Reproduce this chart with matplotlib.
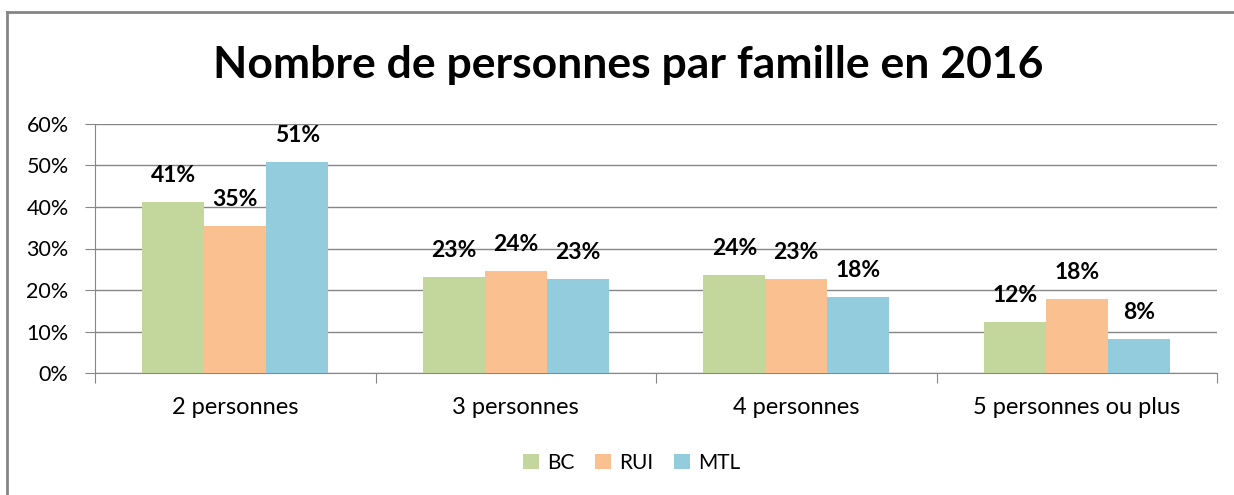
import matplotlib.pyplot as plt
import numpy as np
from matplotlib.lines import Line2D

categories = ['2 personnes', '3 personnes', '4 personnes', '5 personnes ou plus']
series = ['BC', 'RUI', 'MTL']
bc = [41.2, 23.1, 23.6, 12.3]
rui = [35.4, 24.5, 22.6, 17.8]
mtl = [50.9, 22.6, 18.4, 8.3]
labels_bc = ['41%', '23%', '24%', '12%']
labels_rui = ['35%', '24%', '23%', '18%']
labels_mtl = ['51%', '23%', '18%', '8%']
colors = ['#C3D69B', '#FAC090', '#93CDDD']

plt.rcParams['font.family'] = ['Lato', 'DejaVu Sans']
grey = '#868686'

fig = plt.figure(figsize=(12.34, 4.95), dpi=100)
ax = fig.add_axes([95/1234, 1-373/495, (1217-95)/1234, (373-124)/495])

x = np.arange(len(categories))
w = 0.221
allvals = [bc, rui, mtl]
alllabs = [labels_bc, labels_rui, labels_mtl]
for i, (vals, labs) in enumerate(zip(allvals, alllabs)):
    pos = x + (i-1)*w
    ax.bar(pos, vals, width=w, color=colors[i], label=series[i], zorder=3)
    for p, v, l in zip(pos, vals, labs):
        ax.annotate(l, (p, v), xytext=(0, 19), textcoords='offset points',
                    ha='center', va='center', fontsize=16.5, fontweight='bold')

ax.set_xlim(-0.5, 3.5)
ax.set_ylim(0, 60)
ax.set_yticks(range(0, 61, 10))
ax.set_yticklabels([f'{t}%' for t in range(0, 61, 10)], fontsize=15.5)
ax.yaxis.grid(True, color=grey, lw=1, zorder=0)
ax.set_xticks([-0.5, 0.5, 1.5, 2.5, 3.5])
ax.set_xticklabels([])
ax.set_xticks(x, minor=True)
ax.set_xticklabels(categories, minor=True, fontsize=17)
ax.tick_params(axis='x', which='major', length=7, color=grey, direction='out')
ax.tick_params(axis='x', which='minor', length=0, pad=17)
ax.tick_params(axis='y', length=7, color=grey, pad=12)
for s in ['top', 'right']:
    ax.spines[s].set_visible(False)
for s in ['left', 'bottom']:
    ax.spines[s].set_color(grey)

fig.text(0.509, 1-78/495, 'Nombre de personnes par famille en 2016',
         ha='center', va='baseline', fontsize=32, fontweight='bold')

fig.legend(loc='center', bbox_to_anchor=(0.512, 1-463/495), ncol=3, frameon=False,
           handlelength=0.75, handleheight=0.75, handletextpad=0.4, columnspacing=1.0,
           fontsize=15)

# chart border (only left and top visible in the crop)
fig.add_artist(Line2D([7/1234, 7/1234], [0, 1-12/495], color=grey, lw=2, transform=fig.transFigure))
fig.add_artist(Line2D([7/1234, 1], [1-12/495, 1-12/495], color=grey, lw=2, transform=fig.transFigure))

fig.savefig('out.png', dpi=100)
